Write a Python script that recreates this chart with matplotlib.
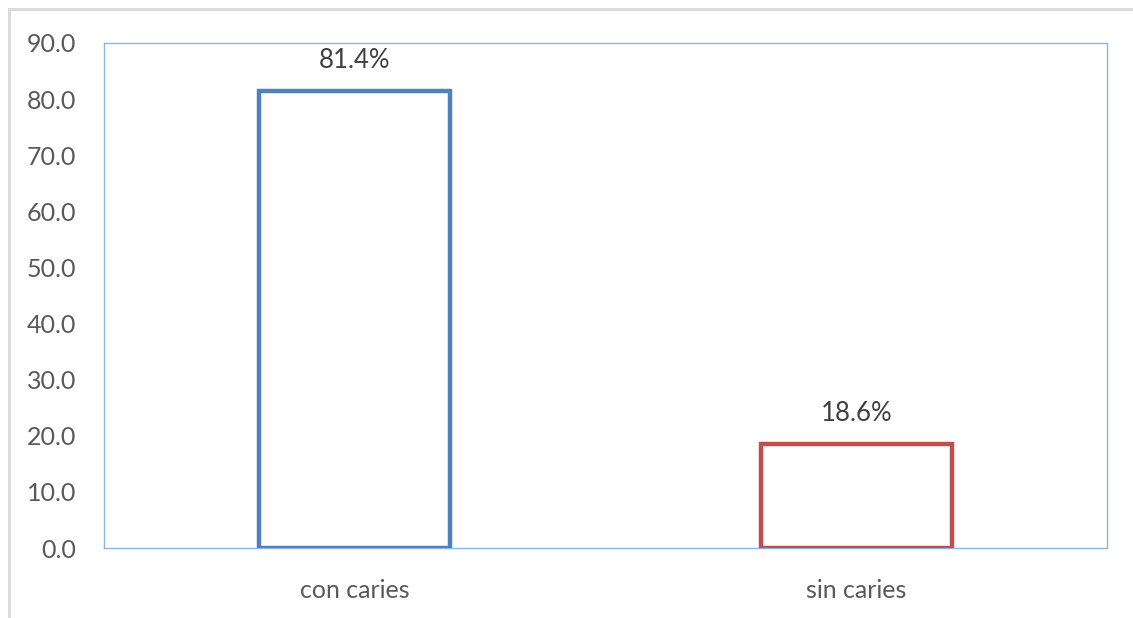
import matplotlib
matplotlib.use('Agg')
import matplotlib.pyplot as plt
from matplotlib.lines import Line2D

# datos
categorias = ['con caries', 'sin caries']
porcentajes = [81.4, 18.6]
etiquetas = ['81.4%', '18.6%']
colores = ['#4F81BD', '#C0504D']
yticks = [0, 10, 20, 30, 40, 50, 60, 70, 80, 90]

plt.rcParams['font.family'] = ['Lato', 'DejaVu Sans']

fig = plt.figure(figsize=(11.33, 6.18), dpi=100)
ax = fig.add_axes([104 / 1133, 1 - 548 / 618, 1003 / 1133, 505 / 618])

x = list(range(len(categorias)))
ax.bar(x, porcentajes, width=0.38, facecolor='white', edgecolor=colores, linewidth=3.2, zorder=3)
for xi, v, t in zip(x, porcentajes, etiquetas):
    ax.text(xi, v + 3.2, t, ha='center', va='bottom', fontsize=18.5, color='#404040')

ax.set_xlim(-0.5, 1.5)
ax.set_ylim(0, 90)
ax.set_yticks(yticks)
ax.set_yticklabels([f'{v:.1f}' for v in yticks])
ax.set_xticks(x)
ax.set_xticklabels(categorias)
ax.tick_params(axis='both', length=0, labelsize=18, labelcolor='#595959')
ax.tick_params(axis='y', pad=20)
ax.tick_params(axis='x', pad=22)
for s in ax.spines.values():
    s.set_color('#8EB4E3')
    s.set_linewidth(1.0)

# borde gris del gráfico
fig.add_artist(Line2D([9 / 1133, 1], [1 - 9 / 618, 1 - 9 / 618], color='#D9D9D9', linewidth=2, transform=fig.transFigure))
fig.add_artist(Line2D([9 / 1133, 9 / 1133], [0, 1 - 9 / 618], color='#D9D9D9', linewidth=2, transform=fig.transFigure))

fig.savefig('out.png', dpi=100)
